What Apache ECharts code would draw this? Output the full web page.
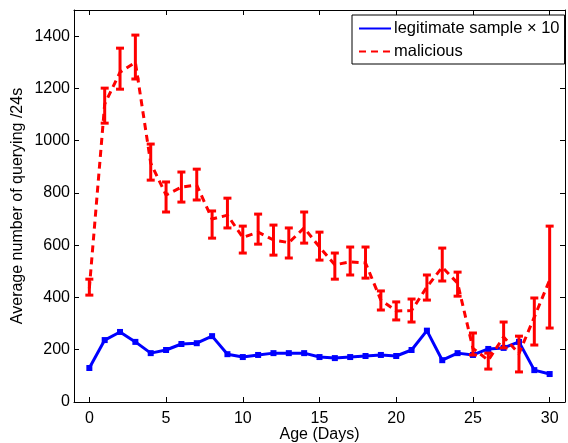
<!DOCTYPE html>
<html>
<head>
<meta charset="utf-8">
<script src="https://cdn.jsdelivr.net/npm/echarts@6/dist/echarts.min.js"></script>
<style>html,body{margin:0;padding:0;background:#fff}#c{width:568px;height:443px}</style>
</head>
<body>
<div id="c"></div>
<script>
var days = [0,1,2,3,4,5,6,7,8,9,10,11,12,13,14,15,16,17,18,19,20,21,22,23,24,25,26,27,28,29,30];
var legitimate = [130,237,268,230,187,199,222,225,252,183,172,180,187,187,187,172,168,172,176,180,176,199,273,160,187,180,203,207,230,122,107];
var maliciousMean = [435,1140,1262,1300,914,792,822,830,700,715,630,650,620,610,666,593,525,536,532,390,348,350,440,516,455,205,160,249,185,325,467];
var maliciousLow  = [409,1067,1197,1236,849,727,765,773,627,666,570,604,562,551,608,543,470,486,474,352,314,306,390,463,405,180,126,207,115,218,283];
var maliciousHigh = [470,1201,1354,1404,987,842,880,891,731,780,673,719,677,666,727,650,570,593,593,425,383,394,486,589,497,264,187,306,252,398,673];
var xTicks = [0,5,10,15,20,25,30];
var yTicks = [0,200,400,600,800,1000,1200,1400];

var FONT = "'Liberation Sans', Arial, Helvetica, sans-serif";
var FS = 16;
var chart = echarts.init(document.getElementById('c'), null, {renderer:'canvas'});

var axisCommon = {
  axisLine: {show: true, onZero: false, lineStyle: {color: '#000', width: 1}},
  splitLine: {show: false}
};
function plain(v) { return String(v); }

chart.setOption({
  animation: false,
  backgroundColor: '#fff',
  textStyle: {fontFamily: FONT},
  grid: {left: 74, right: 3, top: 10, bottom: 41, containLabel: false, outerBoundsMode: 'none'},
  legend: {
    left: 352, top: 15, orient: 'vertical',
    backgroundColor: '#fff', borderColor: '#000', borderWidth: 1, borderRadius: 0,
    padding: [5, 5, 4, 6], itemWidth: 32, itemHeight: 12, itemGap: 6,
    textStyle: {fontSize: 16.5, color: '#000', fontFamily: FONT, padding: [0,0,0,-2]},
    itemStyle: {opacity: 0},
    data: [{name: 'legitimate sample \u00d7 10'}, {name: 'malicious'}]
  },
  xAxis: [
    Object.assign({}, axisCommon, {
      type: 'value', min: -1, max: 31, position: 'bottom',
      name: 'Age (Days)', nameLocation: 'middle', nameGap: 25, nameMoveOverlap: false,
      nameTextStyle: {fontSize: FS, color: '#000', fontFamily: FONT},
      axisTick: {show: true, inside: true, length: 5, customValues: xTicks, lineStyle: {color: '#000'}},
      axisLabel: {show: true, customValues: xTicks, formatter: plain, fontSize: FS, color: '#000', margin: 9, fontFamily: FONT}
    }),
    Object.assign({}, axisCommon, {
      type: 'value', min: -1, max: 31, position: 'top',
      axisTick: {show: true, inside: true, length: 5, customValues: xTicks, lineStyle: {color: '#000'}},
      axisLabel: {show: false}
    })
  ],
  yAxis: [
    Object.assign({}, axisCommon, {
      type: 'value', min: 0, max: 1500, position: 'left',
      name: 'Average number of querying /24s', nameLocation: 'middle', nameGap: 48, nameMoveOverlap: false,
      nameTextStyle: {fontSize: FS, color: '#000', fontFamily: FONT},
      axisTick: {show: true, inside: true, length: 5, customValues: yTicks, lineStyle: {color: '#000'}},
      axisLabel: {show: true, customValues: yTicks, formatter: plain, fontSize: FS, color: '#000', margin: 4, fontFamily: FONT}
    }),
    Object.assign({}, axisCommon, {
      type: 'value', min: 0, max: 1500, position: 'right',
      axisTick: {show: true, inside: true, length: 5, customValues: yTicks, lineStyle: {color: '#000'}},
      axisLabel: {show: false}
    })
  ],
  series: [
    {
      name: 'legitimate sample \u00d7 10', type: 'line',
      data: days.map(function(d, i){ return [d, legitimate[i]]; }),
      symbol: 'rect', symbolSize: 6, showSymbol: true,
      lineStyle: {color: '#0000ff', width: 3},
      itemStyle: {color: '#0000ff'},
      z: 2
    },
    {
      name: 'malicious', type: 'line',
      data: days.map(function(d, i){ return [d, maliciousMean[i]]; }),
      symbol: 'none',
      lineStyle: {color: '#ff0000', width: 3, type: [7, 5]},
      itemStyle: {color: '#ff0000'},
      z: 3
    },
    {
      name: 'malicious-err', type: 'custom',
      data: days.map(function(d, i){ return [d, maliciousLow[i], maliciousHigh[i]]; }),
      encode: {x: 0, y: [1, 2]},
      renderItem: function(params, api) {
        var x = api.value(0);
        var lo = api.coord([x, api.value(1)]);
        var hi = api.coord([x, api.value(2)]);
        var w = 4;
        var st = {stroke: '#ff0000', lineWidth: 3};
        return {
          type: 'group',
          children: [
            {type: 'line', shape: {x1: lo[0], y1: lo[1], x2: hi[0], y2: hi[1]}, style: st},
            {type: 'line', shape: {x1: lo[0]-w, y1: lo[1], x2: lo[0]+w, y2: lo[1]}, style: st},
            {type: 'line', shape: {x1: hi[0]-w, y1: hi[1], x2: hi[0]+w, y2: hi[1]}, style: st}
          ]
        };
      },
      z: 4
    }
  ]
});
</script>
</body>
</html>
